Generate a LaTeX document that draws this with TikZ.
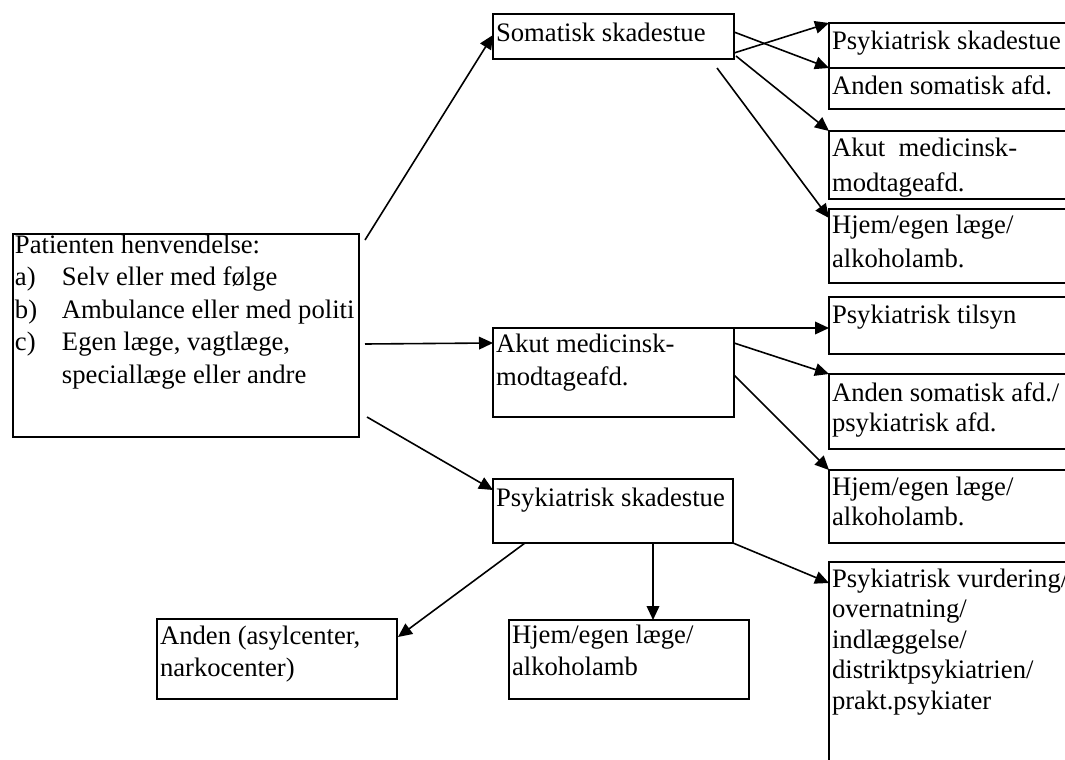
\documentclass[tikz,border=0pt]{standalone}
\usepackage{fontspec}
\setmainfont{Liberation Serif}
\usetikzlibrary{arrows.meta,calc}
\newcommand{\lines}[1]{\begin{tabular}[t]{@{}l@{}}#1\end{tabular}}
\begin{document}
\begin{tikzpicture}[x=0.75pt,y=-0.75pt,
  box/.style={draw,line width=1.5pt,anchor=north west,inner sep=0pt,outer sep=0pt},
  txt/.style={anchor=base west,inner sep=0pt,outer sep=0pt,font=\fontsize{20pt}{#1}\selectfont},
  txt/.default=24.4pt,
  conn/.style={-{Triangle[length=10.5pt,width=9.5pt]},line width=1.2pt}]
\useasboundingbox (0,0) rectangle (1065,760);
\clip (0,0) rectangle (1065,760);
\fill[white] (0,0) rectangle (1065,760);

% boxes
\node[box,minimum width=346*0.75pt,minimum height=203*0.75pt] (main) at (13,234) {};
\node[box,minimum width=241*0.75pt,minimum height=45*0.75pt] (som) at (493,14) {};
\node[box,minimum width=241*0.75pt,minimum height=89*0.75pt] (akut) at (493,328) {};
\node[box,minimum width=240*0.75pt,minimum height=64*0.75pt] (psk) at (493,479) {};
\node[box,minimum width=251*0.75pt,minimum height=45*0.75pt] (r1) at (829,23) {};
\node[box,minimum width=251*0.75pt,minimum height=41*0.75pt] (r2) at (829,68) {};
\node[box,minimum width=251*0.75pt,minimum height=68*0.75pt] (r3) at (829,131) {};
\node[box,minimum width=251*0.75pt,minimum height=74*0.75pt] (r4) at (829,209) {};
\node[box,minimum width=251*0.75pt,minimum height=57*0.75pt] (r5) at (829,297) {};
\node[box,minimum width=251*0.75pt,minimum height=75*0.75pt] (r6) at (829,374) {};
\node[box,minimum width=251*0.75pt,minimum height=73*0.75pt] (r7) at (829,470) {};
\node[box,minimum width=251*0.75pt,minimum height=220*0.75pt] (r8) at (829,562) {};
\node[box,minimum width=240*0.75pt,minimum height=80*0.75pt] (b1) at (157,619) {};
\node[box,minimum width=240*0.75pt,minimum height=79*0.75pt] (b2) at (509,620) {};

% texts
\node[txt=24.4pt] (main-t) at (15,253) {\begin{tabular}[t]{@{}l@{}l@{}}
  \multicolumn{2}{@{}l@{}}{Patienten henvendelse:}\\
  \makebox[35.25pt][l]{a)} & Selv eller med følge\\
  \makebox[35.25pt][l]{b)} & Ambulance eller med politi\\
  \makebox[35.25pt][l]{c)} & Egen læge, vagtlæge,\\
   & speciallæge eller andre
\end{tabular}};
\node[txt] (som-t) at (496,41) {Somatisk skadestue};
\node[txt=24.75pt] (akut-t) at (496,352) {\lines{Akut medicinsk-\\modtageafd.}};
\node[txt] (psk-t) at (496,506) {Psykiatrisk skadestue};
\node[txt] (r1-t) at (832,50) {Psykiatrisk skadestue};
\node[txt] (r2-t) at (832,94) {Anden somatisk afd.};
\node[txt=26.5pt] (r3-t) at (832,156) {\lines{Akut~ medicinsk-\\modtageafd.}};
\node[txt=25.5pt] (r4-t) at (832,233) {\lines{Hjem/egen læge/\\alkoholamb.}};
\node[txt] (r5-t) at (832,323) {Psykiatrisk tilsyn};
\node[txt=22.5pt] (r6-t) at (832,401) {\lines{Anden somatisk afd./\\psykiatrisk afd.}};
\node[txt=22.5pt] (r7-t) at (832,495) {\lines{Hjem/egen læge/\\alkoholamb.}};
\node[txt=22.9pt] (r8-t) at (832,587) {\lines{Psykiatrisk vurdering/\\overnatning/\\indlæggelse/\\distriktpsykiatrien/\\prakt.psykiater}};
\node[txt=24pt] (b1-t) at (160,644) {\lines{Anden (asylcenter,\\narkocenter)}};
\node[txt=24pt] (b2-t) at (512,643) {\lines{Hjem/egen læge/\\alkoholamb}};

% connectors
\draw[conn] ($(main.north east)+(6,6)$) -- ($(som.north west)+(0,21)$);
\draw[conn] ($(main.north east)+(6,110)$) -- ($(akut.north west)+(0,15)$);
\draw[conn] ($(main.south east)+(8,-20)$) -- ($(psk.north west)+(0,11)$);
\draw[conn] ($(som.south east)+(0,-6)$) -- (r1.north west);
\draw[conn] ($(som.north east)+(0,18)$) -- (r2.north west);
\draw[conn] ($(som.south east)+(2,-3)$) -- (r3.north west);
\draw[conn] ($(som.south east)+(-17,9)$) -- ($(r4.north west)+(0,9)$);
\draw[conn] (akut.north east) -- ($(r5.north west)+(0,31)$);
\draw[conn] ($(akut.north east)+(0,15)$) -- (r6.north west);
\draw[conn] ($(akut.north east)+(0,47)$) -- (r7.north west);
\draw[conn] ($(psk.south west)+(32,0)$) -- ($(b1.north east)+(1,18)$);
\draw[conn] ($(psk.south west)+(160,0)$) -- ($(b2.north west)+(144,0)$);
\draw[conn] (psk.south east) -- ($(r8.north west)+(0,21)$);
\end{tikzpicture}
\end{document}
